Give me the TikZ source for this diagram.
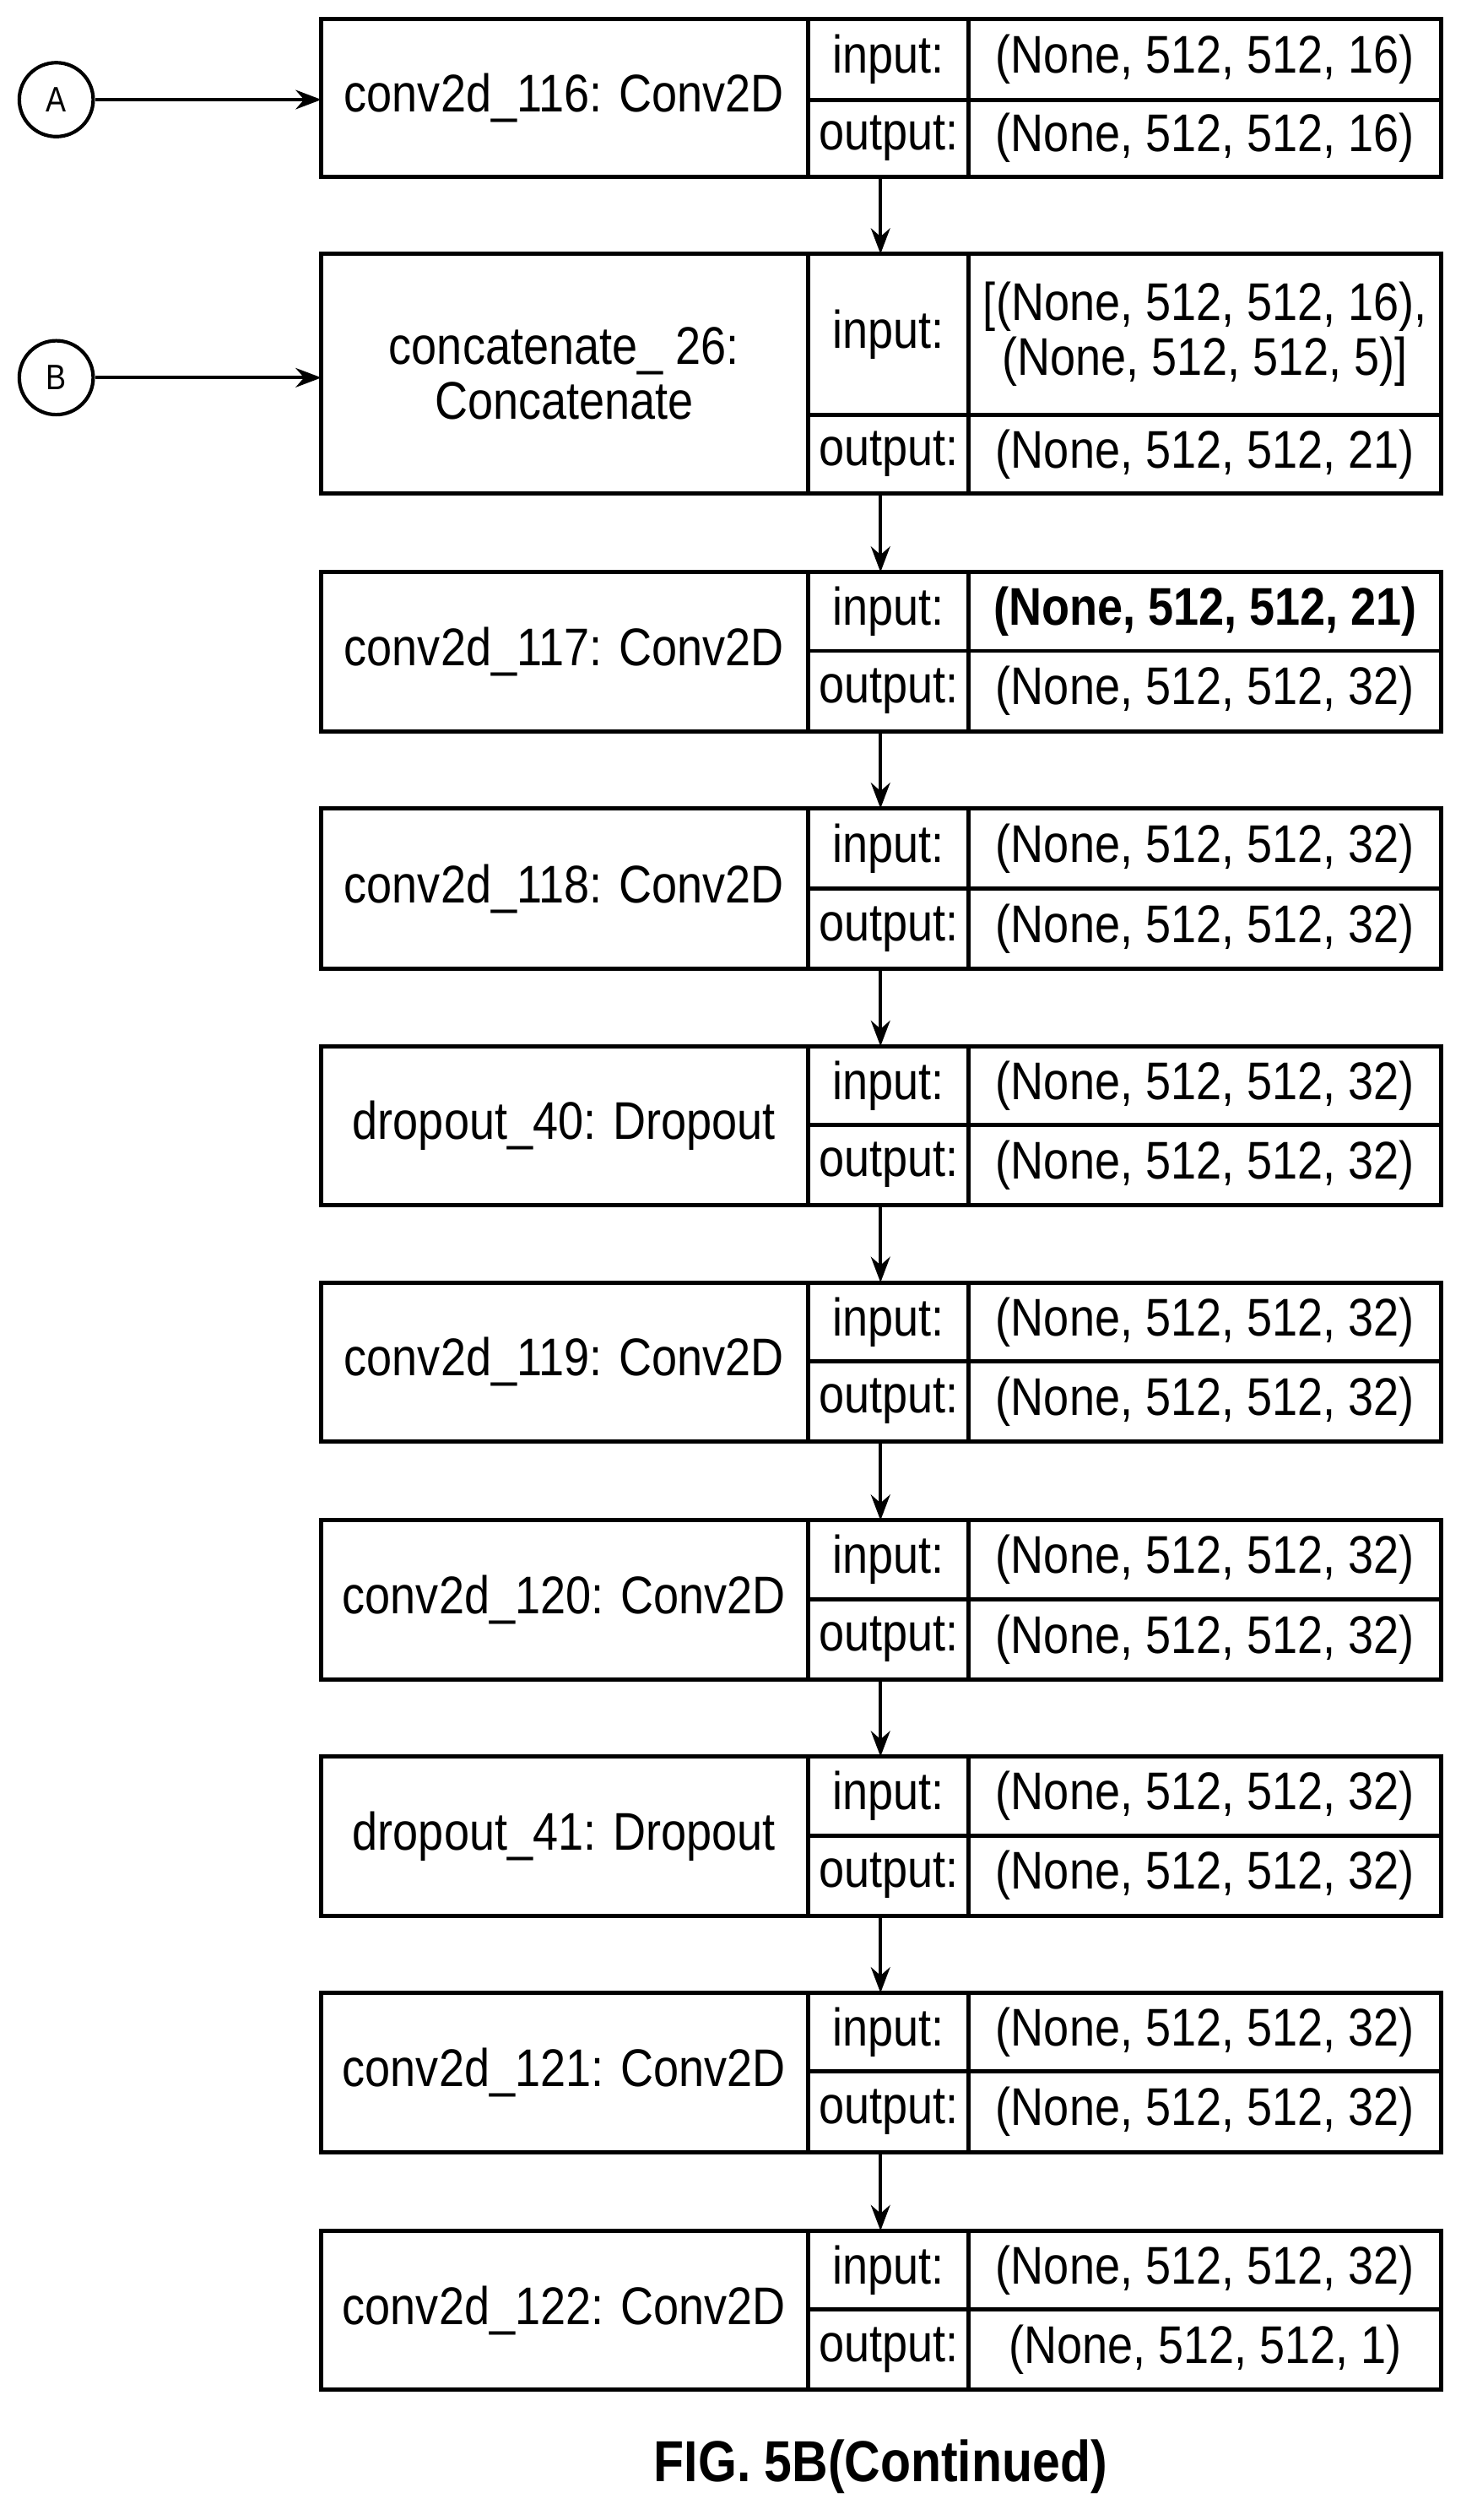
\documentclass[tikz,border=0pt]{standalone}
\usepackage{fontspec}
\setmainfont{Liberation Sans}[FakeStretch=0.86]
\usetikzlibrary{arrows.meta}
\begin{document}
\begin{tikzpicture}[x=1pt,y=-1pt,
 bx/.style={draw,line width=2.6pt},
 t/.style={font=\fontsize{33}{34}\selectfont,inner sep=0pt,align=center},
 ar/.style={-{Stealth[length=16pt,width=12pt]},line width=2pt}]
\useasboundingbox (0,0) rectangle (909,1568);
\def\L#1#2#3#4#5#6#7{%
 \draw[bx] (200,#2) rectangle (897,#3);
 \draw[bx] (503,#2) -- (503,#3) (603,#2) -- (603,#3) (503,#4) -- (897,#4);
 \node[t] (#1) at (351,{(#2+#3)/2}) {#5};
 \node[t] at (553,{(#2+#4)/2}) {input:};
 \node[t] at (553,{(#4+#3)/2}) {output:};
 \node[t] at (750,{(#2+#4)/2}) {#6};
 \node[t] at (750,{(#4+#3)/2}) {#7};
 \coordinate (#1t) at (548,#2); \coordinate (#1b) at (548,#3);}
\L{l1}{12}{110}{62}{conv2d\_116: Conv2D}{(None, 512, 512, 16)}{(None, 512, 512, 16)}
\L{l2}{158}{307}{258}{concatenate\_ 26:\\Concatenate}{[(None, 512, 512, 16),\\(None, 512, 512, 5)]}{(None, 512, 512, 21)}
\L{l3}{356}{455}{405}{conv2d\_117: Conv2D}{\textbf{(None, 512, 512, 21)}}{(None, 512, 512, 32)}
\L{l4}{503}{603}{553}{conv2d\_118: Conv2D}{(None, 512, 512, 32)}{(None, 512, 512, 32)}
\L{l5}{651}{750}{700}{dropout\_40: Dropout}{(None, 512, 512, 32)}{(None, 512, 512, 32)}
\L{l6}{798}{897}{847}{conv2d\_119: Conv2D}{(None, 512, 512, 32)}{(None, 512, 512, 32)}
\L{l7}{946}{1045}{995}{conv2d\_120: Conv2D}{(None, 512, 512, 32)}{(None, 512, 512, 32)}
\L{l8}{1093}{1192}{1142}{dropout\_41: Dropout}{(None, 512, 512, 32)}{(None, 512, 512, 32)}
\L{l9}{1240}{1339}{1289}{conv2d\_121: Conv2D}{(None, 512, 512, 32)}{(None, 512, 512, 32)}
\L{l10}{1388}{1487}{1437}{conv2d\_122: Conv2D}{(None, 512, 512, 32)}{(None, 512, 512, 1)}
\foreach \a/\b in {l1/l2,l2/l3,l3/l4,l4/l5,l5/l6,l6/l7,l7/l8,l8/l9,l9/l10}
 \draw[ar] (\a b) -- (\b t);
\node[draw,circle,line width=2.2pt,minimum size=46pt,inner sep=0pt,font=\fontsize{22}{24}\selectfont] (A) at (35,62) {A};
\node[draw,circle,line width=2.2pt,minimum size=46pt,inner sep=0pt,font=\fontsize{22}{24}\selectfont] (B) at (35,235) {B};
\coordinate (Ae) at (200,62); \coordinate (Be) at (200,235);
\draw[ar] (A) -- (Ae);
\draw[ar] (B) -- (Be);
\node[font=\fontsize{36}{38}\selectfont\bfseries] (cap) at (548,1535) {FIG. 5B(Continued)};
\end{tikzpicture}
\end{document}
